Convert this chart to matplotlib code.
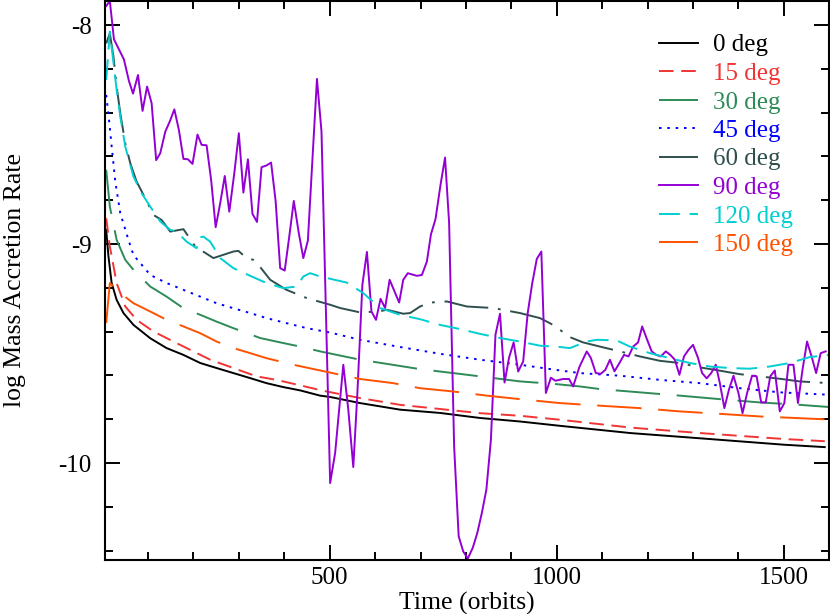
import matplotlib
matplotlib.use("Agg")
import matplotlib.pyplot as plt
from matplotlib.ticker import MultipleLocator

plt.rcParams['font.family'] = ['Liberation Serif', 'DejaVu Serif']
plt.rcParams['axes.unicode_minus'] = False
plt.rcParams['lines.scale_dashes'] = False

# ---- data ----
t_0 = [8, 13, 20, 31, 46, 68, 105, 141, 178, 215, 251, 288, 325, 361, 398, 435,
       479, 501, 567, 655, 743, 831, 919, 1008, 1163, 1317, 1500, 1590]
v_0 = [-8.935, -9.057, -9.178, -9.255, -9.315, -9.369, -9.430, -9.475, -9.506,
       -9.543, -9.566, -9.589, -9.612, -9.635, -9.653, -9.668, -9.692, -9.698,
       -9.726, -9.756, -9.771, -9.794, -9.810, -9.830, -9.863, -9.887, -9.916, -9.927]

t_15 = [8, 16, 31, 50, 75, 112, 156, 193, 237, 288, 339, 383, 435, 486, 567, 655,
        743, 831, 919, 1007, 1163, 1317, 1500, 1590]
v_15 = [-8.882, -9.011, -9.178, -9.285, -9.346, -9.399, -9.445, -9.483, -9.528,
        -9.566, -9.604, -9.620, -9.645, -9.670, -9.703, -9.734, -9.753, -9.772,
        -9.784, -9.802, -9.838, -9.863, -9.890, -9.900]

t_30 = [8, 16, 31, 50, 68, 105, 141, 178, 215, 251, 288, 347, 398, 435, 479, 567,
        626, 699, 772, 831, 919, 992, 1051, 1095, 1183, 1271, 1359, 1447, 1535, 1600]
v_30 = [-8.661, -8.829, -8.981, -9.072, -9.118, -9.194, -9.240, -9.293, -9.323,
        -9.354, -9.384, -9.429, -9.452, -9.468, -9.490, -9.528, -9.547, -9.571,
        -9.589, -9.604, -9.627, -9.638, -9.650, -9.662, -9.677, -9.692, -9.708,
        -9.723, -9.734, -9.744]

t_45 = [8, 11, 15, 20, 28, 39, 57, 68, 105, 141, 178, 215, 251, 288, 325, 361,
        405, 450, 501, 567, 655, 743, 831, 919, 1007, 1051, 1139, 1227, 1315,
        1403, 1491, 1600]
v_45 = [-8.319, -8.373, -8.448, -8.555, -8.715, -8.859, -8.981, -9.050, -9.141,
        -9.178, -9.209, -9.240, -9.270, -9.293, -9.315, -9.338, -9.361, -9.384,
        -9.404, -9.437, -9.470, -9.501, -9.528, -9.551, -9.577, -9.589, -9.601,
        -9.620, -9.635, -9.658, -9.677, -9.688]

t_60 = [8, 16, 24, 31, 39, 50, 61, 75, 94, 112, 130, 149, 178, 204, 244, 288,
        299, 317, 332, 347, 369, 405, 450, 501, 523, 567, 607, 626, 662, 677, 699,
        721, 758, 802, 860, 919, 963, 992, 1029, 1058, 1095, 1139, 1183, 1227,
        1271, 1315, 1359, 1403, 1447, 1491, 1535, 1600]
v_60 = [-8.084, -8.038, -8.145, -8.281, -8.403, -8.540, -8.631, -8.715, -8.791,
        -8.867, -8.890, -8.943, -8.932, -9.011, -9.064, -9.034, -9.031, -9.064,
        -9.072, -9.105, -9.163, -9.209, -9.247, -9.277, -9.292, -9.312, -9.308,
        -9.300, -9.318, -9.315, -9.285, -9.267, -9.262, -9.285, -9.292, -9.315,
        -9.338, -9.369, -9.425, -9.449, -9.468, -9.490, -9.513, -9.533, -9.543,
        -9.563, -9.578, -9.594, -9.604, -9.615, -9.627, -9.635]

t_90 = [8, 16, 25, 47, 58, 67, 78, 88, 98, 108, 118, 127, 138, 148, 158, 168, 178,
        188, 198, 209, 218, 229, 239, 249, 259, 269, 279, 290, 300, 310, 320, 330,
        340, 350, 361, 371, 381, 391, 401, 411, 421, 432, 442, 452, 472, 482, 501,
        512, 530, 541, 552, 561, 572, 582, 592, 602, 612, 622, 632, 653, 662, 672,
        692, 703, 714, 723, 733, 744, 754, 763, 774, 784, 794, 804, 815, 825, 835,
        845, 855, 865, 875, 885, 895, 905, 915, 926, 936, 946, 956, 966, 976, 987,
        997, 1014, 1027, 1036, 1050, 1066, 1075, 1086, 1097, 1107, 1117, 1127,
        1138, 1148, 1158, 1168, 1179, 1188, 1199, 1209, 1219, 1229, 1240, 1250,
        1260, 1270, 1280, 1290, 1300, 1311, 1320, 1330, 1340, 1350, 1359, 1369,
        1379, 1389, 1400, 1409, 1419, 1430, 1440, 1450, 1460, 1470, 1480, 1491,
        1501, 1510, 1521, 1531, 1541, 1551, 1561, 1571, 1581, 1592]
v_90 = [-7.913, -7.890, -8.065, -8.157, -8.255, -8.313, -8.228, -8.392, -8.281,
        -8.357, -8.617, -8.585, -8.487, -8.440, -8.385, -8.479, -8.611, -8.613,
        -8.634, -8.500, -8.547, -8.549, -8.707, -8.923, -8.813, -8.689, -8.852,
        -8.677, -8.494, -8.765, -8.613, -8.862, -8.899, -8.649, -8.641, -8.628,
        -8.803, -9.110, -9.121, -8.966, -8.803, -8.950, -9.064, -8.984, -8.246,
        -8.487, -10.091, -9.954, -9.551, -9.756, -10.018, -9.680, -9.186, -9.036,
        -9.308, -9.346, -9.250, -9.292, -9.163, -9.267, -9.163, -9.133, -9.145,
        -9.141, -9.080, -8.955, -8.886, -8.730, -8.605, -8.905, -9.924, -10.334,
        -10.403, -10.436, -10.387, -10.319, -10.228, -10.121, -9.893, -9.414,
        -9.318, -9.632, -9.518, -9.449, -9.582, -9.536, -9.315, -9.178, -9.068,
        -9.034, -9.680, -9.610, -9.624, -9.616, -9.616, -9.650, -9.560, -9.490,
        -9.520, -9.589, -9.592, -9.574, -9.528, -9.581, -9.543, -9.506, -9.513,
        -9.468, -9.449, -9.376, -9.437, -9.490, -9.506, -9.513, -9.490, -9.506,
        -9.528, -9.597, -9.513, -9.483, -9.460, -9.520, -9.589, -9.613, -9.589,
        -9.551, -9.635, -9.749, -9.665, -9.601, -9.680, -9.772, -9.680, -9.601,
        -9.604, -9.723, -9.723, -9.604, -9.577, -9.764, -9.726, -9.551, -9.551,
        -9.726, -9.574, -9.445, -9.513, -9.589, -9.498, -9.490]

t_120 = [8, 13, 16, 31, 39, 50, 68, 86, 105, 127, 149, 163, 185, 207, 215, 222,
         237, 259, 288, 325, 361, 398, 427, 442, 457, 479, 538, 574, 611, 655, 699,
         743, 787, 831, 875, 919, 963, 1007, 1029, 1066, 1088, 1132, 1161, 1205,
         1249, 1293, 1337, 1381, 1425, 1469, 1513, 1557, 1600]
v_120 = [-8.251, -8.114, -8.030, -8.297, -8.418, -8.555, -8.692, -8.768, -8.829,
         -8.897, -8.935, -8.943, -8.989, -9.019, -8.969, -8.966, -8.989, -9.064,
         -9.110, -9.145, -9.178, -9.201, -9.194, -9.148, -9.133, -9.148, -9.176,
         -9.224, -9.292, -9.323, -9.343, -9.369, -9.388, -9.410, -9.429, -9.445,
         -9.464, -9.470, -9.475, -9.445, -9.437, -9.440, -9.468, -9.498, -9.521,
         -9.543, -9.559, -9.566, -9.569, -9.559, -9.543, -9.516, -9.506]

t_150 = [8, 16, 39, 68, 105, 141, 178, 215, 251, 288, 325, 361, 420, 472, 567,
         640, 699, 772, 846, 919, 1007, 1088, 1183, 1271, 1359, 1447, 1579, 1600]
v_150 = [-9.360, -9.178, -9.224, -9.270, -9.308, -9.346, -9.376, -9.407, -9.445,
         -9.475, -9.498, -9.521, -9.551, -9.574, -9.616, -9.635, -9.658, -9.673,
         -9.692, -9.708, -9.726, -9.737, -9.749, -9.764, -9.775, -9.787, -9.799,
         -9.801]

labels = ['0 deg', '15 deg', '30 deg', '45 deg', '60 deg', '90 deg', '120 deg', '150 deg']
times = [t_0, t_15, t_30, t_45, t_60, t_90, t_120, t_150]
rates = [v_0, v_15, v_30, v_45, v_60, v_90, v_120, v_150]

colors = ['black', '#f03535', '#2e8b57', '#0000ff', '#2f4f4f', '#9400d3', '#00ced1', '#ff5200']
# dash patterns in points
dashes = [
    None,
    (10.5, 5.5),
    (32, 12),
    (1.8, 4.2),
    (32, 7, 2, 7),
    None,
    (15, 7),
    (32, 12),
]

fig = plt.figure(figsize=(8.3, 6.14), dpi=100)
ax = fig.add_axes([105.3 / 830, 1 - 559.7 / 614, 724 / 830, 559.2 / 614])

for t, v, lab, c, d in zip(times, rates, labels, colors, dashes):
    line, = ax.plot(t, v, color=c, lw=1.4, label=lab)
    if d is not None:
        line.set_dashes(d)

ax.set_xlim(6, 1600)
ax.set_ylim(-10.441, -7.888)

ax.xaxis.set_major_locator(MultipleLocator(500))
ax.xaxis.set_minor_locator(MultipleLocator(100))
ax.yaxis.set_major_locator(MultipleLocator(1))
ax.yaxis.set_minor_locator(MultipleLocator(0.2))
ax.tick_params(which='both', direction='in', top=True, right=True, width=1.4,
               labelsize=18)
ax.tick_params(which='major', length=10.5)
ax.tick_params(which='minor', length=5.5)
ax.tick_params(axis='x', pad=5.5)
ax.tick_params(axis='y', pad=10)
for s in ax.spines.values():
    s.set_linewidth(1.5)

ax.set_xlabel('Time (orbits)', fontsize=18.5)
ax.set_ylabel('log Mass Accretion Rate', fontsize=18.5)
ax.xaxis.set_label_coords(0.5, -0.057)
ax.yaxis.set_label_coords((26 - 105.3) / 724, 0.5)

leg = ax.legend(loc='upper left', bbox_to_anchor=(659 / 830, 1 - 34 / 614),
                bbox_transform=fig.transFigure, frameon=False, fontsize=18,
                handlelength=1.56, handletextpad=0.6, labelspacing=0.24,
                borderpad=0, borderaxespad=0, labelcolor='linecolor')

fig.savefig('out.png', dpi=100)
